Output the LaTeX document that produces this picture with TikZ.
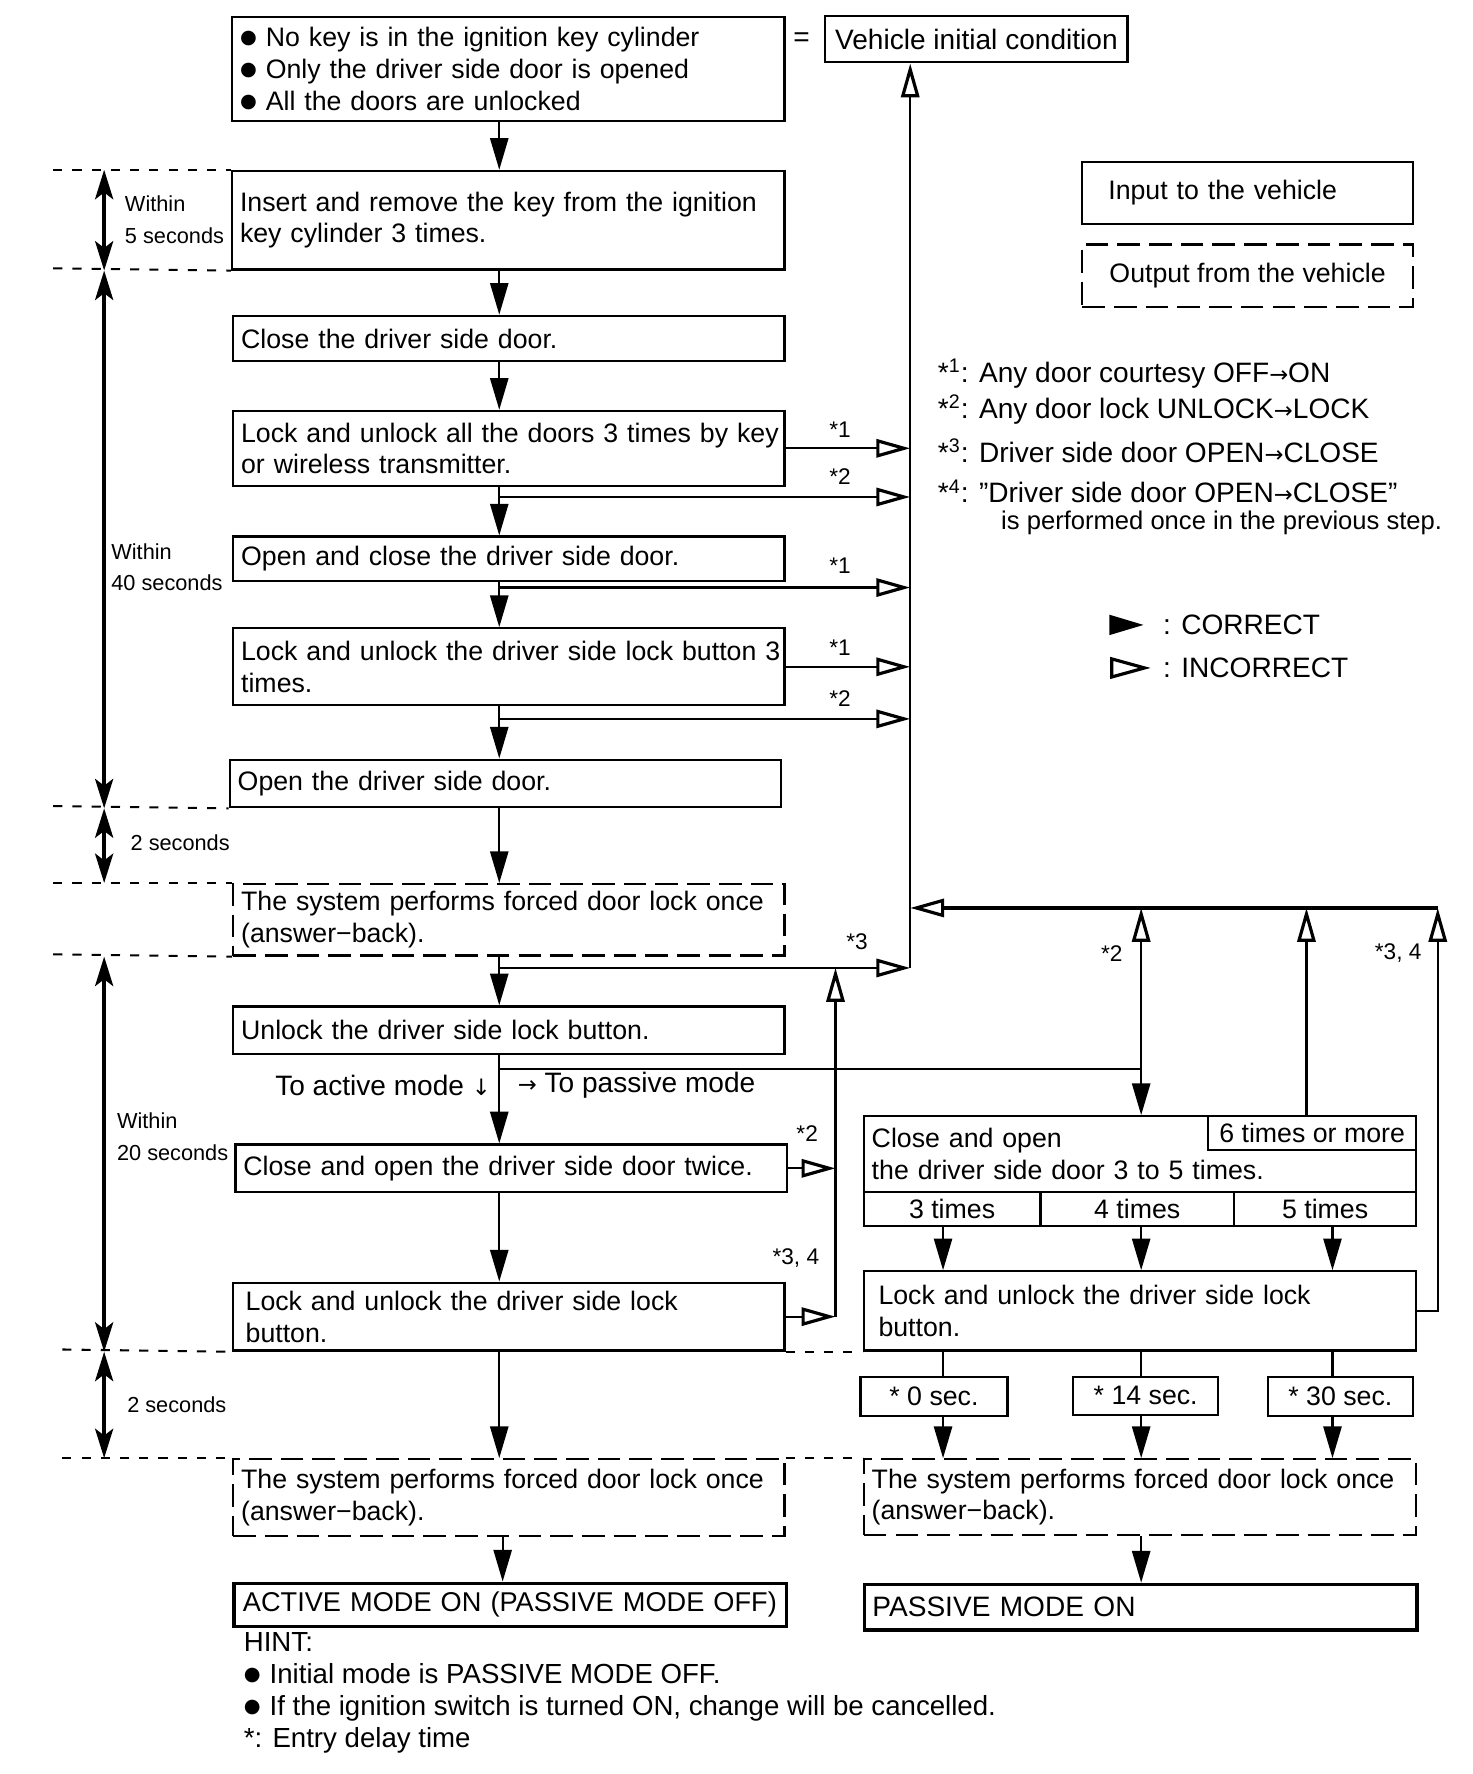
\documentclass[tikz,border=0pt]{standalone}
\usepackage{fontspec}
\setmainfont{Liberation Sans}
\newfontfamily\dejavu{DejaVu Sans}
\usetikzlibrary{arrows.meta}
\newcommand\mainsz{\fontsize{11.8}{14}\selectfont}
\newcommand\footsz{\fontsize{12.4}{14}\selectfont}
\newcommand\hintsz{\fontsize{12.2}{14}\selectfont}
\newcommand\labsz{\fontsize{9.6}{14}\selectfont}
\newcommand\starsz{\fontsize{10}{12}\selectfont}
\newcommand\bul{\raisebox{1.3pt}{\dejavu\fontsize{8.5}{9}\selectfont ●}\hspace{4pt}}
\newcommand\rarr{{\dejavu\fontsize{10}{12}\selectfont →}}
\newcommand\darr{{\dejavu\fontsize{10}{12}\selectfont ↓}}
\tikzset{
  bx/.style={draw, line width=1pt, anchor=north west, inner xsep=3.5pt, inner ysep=0pt, align=left, font=\mainsz},
  dbx/.style={bx, dash pattern=on 10pt off 4pt},
  tbx/.style={bx, line width=1.6pt},
  cbx/.style={draw, line width=1pt, anchor=north west, inner sep=0pt, font=\mainsz, align=center},
  fl/.style={line width=1pt, -{Triangle[length=14pt,width=8pt]}},
  op/.style={line width=1pt, -{Triangle[open,length=15pt,width=8pt,line width=1.4pt]}},
  sepline/.style={line width=0.9pt, dash pattern=on 4pt off 4.5pt},
  dimarr/.style={line width=1.6pt, {Stealth[length=13pt,width=8pt,inset=3pt]}-{Stealth[length=13pt,width=8pt,inset=3pt]}},
  lab/.style={anchor=west, inner sep=0pt, font=\labsz, align=left},
  stl/.style={inner sep=0pt, font=\starsz},
  txt/.style={anchor=west, inner sep=0pt, font=\mainsz},
  ftxt/.style={anchor=west, inner sep=0pt, font=\footsz},
}
\begin{document}
\begin{tikzpicture}[x=0.5pt,y=-0.5pt]
\useasboundingbox (0,0) rectangle (1300.3,1567);
\fill[white] (0,0) rectangle (1300.3,1567);

% column coordinates
\coordinate (ax) at (441,0);
\coordinate (ax2) at (444,0);
\coordinate (bus) at (804,0);
\coordinate (vx) at (738,0);
\coordinate (px) at (1008,0);
\coordinate (qx) at (1154,0);
\coordinate (c1x) at (833,0);
\coordinate (c3x) at (1177,0);
\coordinate (dx) at (92,0);
\coordinate (rc) at (1270,802);

% left column boxes
\node[bx, text width=237pt, minimum height=46pt] (n0) at (204,14)
  {\bul No key is in the ignition key cylinder\\\bul Only the driver side door is opened\\\bul All the doors are unlocked};
\node[font=\footsz] (eq) at (708,35) {=};
\node[cbx, minimum width=133.5pt, minimum height=20.5pt, font=\footsz] (vic) at (728,13) {Vehicle initial condition};

\node[bx, text width=237pt, minimum height=43.5pt] (n1) at (204,150)
  {\mbox{Insert and remove the key from the ignition}\\key cylinder 3 times.};
\node[bx, text width=236.5pt, minimum height=20pt] (n2) at (205,278) {Close the driver side door.};
\node[bx, text width=236.5pt, minimum height=33pt] (n3) at (205,362)
  {\mbox{Lock and unlock all the doors 3 times by key}\\or wireless transmitter.};
\node[bx, text width=236.5pt, minimum height=19.5pt] (n4) at (205,473) {Open and close the driver side door.};
\node[bx, text width=236.5pt, minimum height=34pt] (n5) at (205,554)
  {\mbox{Lock and unlock the driver side lock button 3}\\times.};
\node[bx, text width=236.5pt, minimum height=21pt] (n6) at (202,670) {Open the driver side door.};
\node[dbx, text width=236.5pt, minimum height=31.5pt] (n7) at (205,780)
  {\mbox{The system performs forced door lock once}\\(answer−back).};
\node[bx, text width=236.5pt, minimum height=21pt] (n8) at (205,888) {Unlock the driver side lock button.};
\node[bx, text width=236.5pt, minimum height=21pt] (n9) at (207,1010) {Close and open the driver side door twice.};
\node[bx, inner xsep=5.5pt, text width=232.5pt, minimum height=30pt] (n10) at (205,1132)
  {Lock and unlock the driver side lock\\button.};
\node[dbx, text width=236.5pt, minimum height=34pt] (n11) at (205,1288)
  {\mbox{The system performs forced door lock once}\\(answer−back).};
\node[tbx, inner xsep=4pt, text width=236pt, minimum height=19pt, font=\fontsize{12}{14}\selectfont] (n12) at (205,1397)
  {\mbox{ACTIVE MODE ON (PASSIVE MODE OFF)}};

% legend boxes
\node[bx, inner xsep=11.5pt, text width=123pt, minimum height=27.5pt] (lin) at (955,142) {Input to the vehicle};
\node[cbx, dash pattern=on 10pt off 4pt, minimum width=146pt, minimum height=27.5pt] (lout) at (955,215) {Output from the vehicle};

% footnotes
\node[ftxt] (f1) at (828,330) {*\textsuperscript{1}: Any door courtesy OFF\rarr ON};
\node[ftxt] (f2) at (828,362) {*\textsuperscript{2}: Any door lock UNLOCK\rarr LOCK};
\node[ftxt] (f3) at (828,398) {*\textsuperscript{3}: Driver side door OPEN\rarr CLOSE};
\node[ftxt] (f4) at (828,434) {*\textsuperscript{4}: "Driver side door OPEN\rarr CLOSE”};
\node[txt, font=\fontsize{11.3}{14}\selectfont] (f5) at (884,462) {is performed once in the previous step.};

% arrow legend
\fill (980,543) -- (1010,552) -- (980,561) -- cycle;
\draw[line width=1.4pt, line join=miter] (982,582) -- (1011,590) -- (982,598) -- cycle;
\node[ftxt] (lc) at (1027,552) {: CORRECT};
\node[ftxt] (li) at (1027,590) {: INCORRECT};

% right column boxes
\node[bx, text width=237pt, minimum height=33.5pt] (r1) at (762,985)
  {Close and open\\the driver side door 3 to 5 times.};
\node[cbx, minimum width=92pt, minimum height=15pt] (six) at (1066,985) {6 times or more};
\node[cbx, minimum width=78pt, minimum height=15pt] (c3) at (762,1052) {3 times};
\node[cbx, minimum width=85.5pt, minimum height=15pt] (c4) at (918,1052) {4 times};
\node[cbx, minimum width=80.5pt, minimum height=15pt] (c5) at (1089,1052) {5 times};
\node[bx, inner xsep=6.5pt, text width=231pt, minimum height=35pt] (r2) at (762,1122)
  {Lock and unlock the driver side lock\\button.};
\node[cbx, minimum width=65pt, minimum height=17.5pt] (s0) at (759,1215) {* 0 sec.};
\node[cbx, minimum width=64pt, minimum height=17pt] (s14) at (947,1215) {* 14 sec.};
\node[cbx, minimum width=64pt, minimum height=17.5pt] (s30) at (1119,1215) {* 30 sec.};
\node[dbx, text width=237pt, minimum height=33.5pt] (r3) at (762,1288)
  {\mbox{The system performs forced door lock once}\\(answer−back).};
\node[tbx, text width=237pt, minimum height=20pt, font=\footsz] (r4) at (762,1398) {PASSIVE MODE ON};

% hint
\node[anchor=north west, inner sep=0pt, align=left, font=\hintsz] (hint) at (215,1442)
  {HINT:\\\bul Initial mode is PASSIVE MODE OFF.\\\bul If the ignition switch is turned ON, change will be cancelled.\\*: Entry delay time};

% branch points
\coordinate (b1) at (441,439);
\coordinate (b2) at (441,519);
\coordinate (b3) at (441,635);
\coordinate (b4) at (441,855);
\coordinate (b5) at (441,944);

% main flow
\draw[fl] (n0.south -| ax) -- (n1.north -| ax);
\draw[fl] (n1.south -| ax) -- (n2.north -| ax);
\draw[fl] (n2.south -| ax) -- (n3.north -| ax);
\draw[fl] (n3.south -| ax) -- (n4.north -| ax);
\draw[fl] (n4.south -| ax) -- (n5.north -| ax);
\draw[fl] (n5.south -| ax) -- (n6.north -| ax);
\draw[fl] (n6.south -| ax) -- (n7.north -| ax);
\draw[fl] (n7.south -| ax) -- (n8.north -| ax);
\draw[fl] (n8.south -| ax) -- (n9.north -| ax);
\draw[fl] (n9.south -| ax) -- (n10.north -| ax);
\draw[fl] (n10.south -| ax) -- (n11.north -| ax);
\draw[fl] (n11.south -| ax2) -- (n12.north -| ax2);

% branches to the return bus
\draw[op] (n3.east) -- (n3.east -| bus);
\draw[op] (b1) -- (b1 -| bus);
\draw[op] (b2) -- (b2 -| bus);
\draw[op] (n5.east) -- (n5.east -| bus);
\draw[op] (b3) -- (b3 -| bus);
\draw[op] (b4) -- (b4 -| bus);
\draw[op] (b4 -| bus) -- (vic.south -| bus);

\draw[op] (n9.east) -- (n9.east -| vx);
\draw[op] (n10.east) -- (n10.east -| vx);
\draw[op] (n10.east -| vx) -- (b4 -| vx);

% to passive mode
\draw[line width=1pt] (b5) -- (b5 -| px);
\draw[fl] (b5 -| px) -- (r1.north -| px);
\draw[op] (b5 -| px) -- (rc -| px);
\draw[op] (six.north -| qx) -- (rc -| qx);
\draw[op] (r2.east) -- (r2.east -| rc) -- (rc);
\draw[op, line width=1.5pt] (rc) -- (rc -| bus);

\draw[fl] (c3.south -| c1x) -- (r2.north -| c1x);
\draw[fl] (c4.south -| px) -- (r2.north -| px);
\draw[fl] (c5.south -| c3x) -- (r2.north -| c3x);
\draw[line width=1pt] (r2.south -| c1x) -- (s0.north -| c1x);
\draw[line width=1pt] (r2.south -| px) -- (s14.north -| px);
\draw[line width=1pt] (r2.south -| c3x) -- (s30.north -| c3x);
\draw[fl] (s0.south -| c1x) -- (r3.north -| c1x);
\draw[fl] (s14.south -| px) -- (r3.north -| px);
\draw[fl] (s30.south -| c3x) -- (r3.north -| c3x);
\draw[fl] (r3.south -| px) -- (r4.north -| px);

% connector labels
\node[stl] (l1) at (742,380) {*1};
\node[stl] (l2) at (742,421) {*2};
\node[stl] (l3) at (742,500) {*1};
\node[stl] (l4) at (742,572) {*1};
\node[stl] (l5) at (742,617) {*2};
\node[stl] (l6) at (757,832) {*3};
\node[stl] (l7) at (713,1001) {*2};
\node[stl] (l8) at (703,1111) {*3, 4};
\node[stl] (l9) at (982,842) {*2};
\node[stl] (l10) at (1235,842) {*3, 4};
\node[txt, anchor=east, font=\footsz] (ta) at (434,959) {To active mode \darr};
\node[txt, font=\footsz] (tp) at (457,959) {\rarr\ To passive mode};

% time separators
\draw[sepline] (47,150) -- (n1.north west);
\draw[sepline] (47,237) -- (n1.south west);
\draw[sepline] (47,712) -- (n6.south west);
\draw[sepline] (47,780) -- (n7.north west);
\draw[sepline] (47,843) -- (n7.south west);
\draw[sepline] (55,1192) -- (n10.south west);
\draw[sepline] (n10.south east) -- (r2.south west);
\draw[sepline] (55,1288) -- (n11.north west);
\draw[sepline] (n11.north east) -- (r3.north west);

% time spans
\draw[dimarr] (n1.north -| dx) -- (n1.south -| dx);
\draw[dimarr] (n1.south -| dx) -- (n6.south -| dx);
\draw[dimarr] (n6.south -| dx) -- (n7.north -| dx);
\draw[dimarr] (n7.south -| dx) -- (n10.south -| dx);
\draw[dimarr] (n10.south -| dx) -- (n11.north -| dx);
\node[lab] (w5) at (110,194) {Within\\5 seconds};
\node[lab] (w40) at (98,501) {Within\\40 seconds};
\node[lab] (t2a) at (115,744) {2 seconds};
\node[lab] (w20) at (103,1004) {Within\\20 seconds};
\node[lab] (t2b) at (112,1241) {2 seconds};
\end{tikzpicture}
\end{document}
